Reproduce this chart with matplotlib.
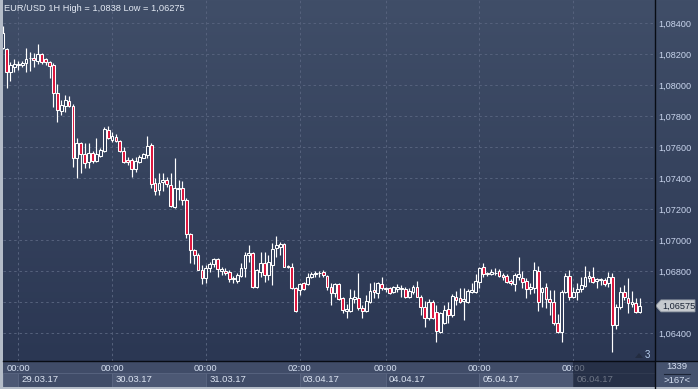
import numpy as np
import matplotlib
matplotlib.use("Agg")
import matplotlib.pyplot as plt
from matplotlib.patches import Rectangle, Polygon
from matplotlib.ticker import FixedLocator, FuncFormatter
from matplotlib.transforms import blended_transform_factory

plt.rcParams['font.family'] = ['Liberation Sans', 'DejaVu Sans']

# ---------------- data (EUR/USD hourly) ----------------
opens = [1.08239, 1.08232, 1.08084, 1.08116, 1.08126, 1.08132, 1.08144, 1.08171, 1.08176, 1.08155,
         1.08198, 1.08166, 1.08147, 1.08129, 1.07947, 1.07834, 1.07865, 1.07897, 1.07865, 1.07531,
         1.07628, 1.07553, 1.07501, 1.07563, 1.07510, 1.07544, 1.07574, 1.07708, 1.07645, 1.07667,
         1.07641, 1.07576, 1.07516, 1.07516, 1.07456, 1.07505, 1.07531, 1.07549, 1.07613, 1.07366,
         1.07323, 1.07373, 1.07387, 1.07355, 1.07211, 1.07329, 1.07334, 1.07258, 1.07037, 1.06936,
         1.06904, 1.06807, 1.06753, 1.06818, 1.06844, 1.06876, 1.06800, 1.06800, 1.06792, 1.06749,
         1.06738, 1.06770, 1.06818, 1.06904, 1.06918, 1.06695, 1.06794, 1.06850, 1.06775, 1.06839,
         1.06947, 1.06957, 1.06975, 1.06833, 1.06824, 1.06689, 1.06678, 1.06721, 1.06716, 1.06764,
         1.06781, 1.06784, 1.06796, 1.06768, 1.06695, 1.06657, 1.06716, 1.06624, 1.06542, 1.06542,
         1.06620, 1.06624, 1.06560, 1.06542, 1.06602, 1.06678, 1.06657, 1.06715, 1.06684, 1.06689,
         1.06667, 1.06684, 1.06684, 1.06682, 1.06635, 1.06667, 1.06699, 1.06635, 1.06570, 1.06495,
         1.06602, 1.06536, 1.06409, 1.06467, 1.06553, 1.06517, 1.06635, 1.06624, 1.06609, 1.06602,
         1.06667, 1.06667, 1.06731, 1.06824, 1.06779, 1.06781, 1.06786, 1.06802, 1.06775, 1.06768,
         1.06736, 1.06715, 1.06764, 1.06753, 1.06736, 1.06682, 1.06689, 1.06800, 1.06663, 1.06695,
         1.06620, 1.06602, 1.06463, 1.06409, 1.06667, 1.06770, 1.06635, 1.06663, 1.06684, 1.06706,
         1.06757, 1.06764, 1.06736, 1.06742, 1.06742, 1.06721, 1.06760, 1.06452, 1.06570, 1.06667,
         1.06628, 1.06588, 1.06592, 1.06534]
highs = [1.08380, 1.08241, 1.08148, 1.08168, 1.08152, 1.08155, 1.08241, 1.08215, 1.08205, 1.08265,
         1.08205, 1.08172, 1.08155, 1.08140, 1.08005, 1.07903, 1.07936, 1.07929, 1.07876, 1.07656,
         1.07634, 1.07624, 1.07624, 1.07574, 1.07660, 1.07592, 1.07731, 1.07736, 1.07695, 1.07682,
         1.07645, 1.07602, 1.07538, 1.07531, 1.07538, 1.07549, 1.07563, 1.07671, 1.07628, 1.07398,
         1.07431, 1.07434, 1.07409, 1.07434, 1.07527, 1.07387, 1.07381, 1.07273, 1.07047, 1.06940,
         1.06915, 1.06839, 1.06839, 1.06860, 1.06882, 1.06882, 1.06828, 1.06818, 1.06807, 1.06768,
         1.06789, 1.06854, 1.06925, 1.06968, 1.06925, 1.06811, 1.06925, 1.06925, 1.06904, 1.06979,
         1.07026, 1.06989, 1.06983, 1.06839, 1.06850, 1.06695, 1.06721, 1.06731, 1.06786, 1.06796,
         1.06802, 1.06802, 1.06807, 1.06775, 1.06721, 1.06725, 1.06725, 1.06635, 1.06588, 1.06682,
         1.06678, 1.06786, 1.06581, 1.06646, 1.06725, 1.06731, 1.06731, 1.06764, 1.06699, 1.06699,
         1.06704, 1.06716, 1.06710, 1.06699, 1.06689, 1.06710, 1.06736, 1.06646, 1.06609, 1.06618,
         1.06613, 1.06581, 1.06538, 1.06581, 1.06602, 1.06652, 1.06673, 1.06689, 1.06689, 1.06682,
         1.06721, 1.06781, 1.06828, 1.06850, 1.06796, 1.06811, 1.06818, 1.06811, 1.06786, 1.06781,
         1.06747, 1.06786, 1.06893, 1.06800, 1.06753, 1.06721, 1.06860, 1.06835, 1.06699, 1.06721,
         1.06678, 1.06678, 1.06521, 1.06678, 1.06786, 1.06807, 1.06699, 1.06721, 1.06764, 1.06835,
         1.06800, 1.06828, 1.06757, 1.06753, 1.06753, 1.06796, 1.06786, 1.06586, 1.06699, 1.06710,
         1.06753, 1.06671, 1.06624, 1.06624]
lows = [1.08230, 1.07981, 1.08026, 1.08086, 1.08097, 1.08116, 1.08086, 1.08092, 1.08114, 1.08134,
        1.08136, 1.08129, 1.08043, 1.07860, 1.07763, 1.07807, 1.07828, 1.07860, 1.07473, 1.07402,
        1.07431, 1.07463, 1.07467, 1.07495, 1.07501, 1.07538, 1.07570, 1.07650, 1.07634, 1.07631,
        1.07570, 1.07495, 1.07484, 1.07409, 1.07441, 1.07499, 1.07527, 1.07527, 1.07334, 1.07291,
        1.07291, 1.07318, 1.07344, 1.07211, 1.07205, 1.07258, 1.07226, 1.07011, 1.06850, 1.06846,
        1.06804, 1.06715, 1.06721, 1.06796, 1.06828, 1.06764, 1.06775, 1.06775, 1.06731, 1.06721,
        1.06721, 1.06764, 1.06764, 1.06860, 1.06689, 1.06689, 1.06762, 1.06731, 1.06742, 1.06710,
        1.06893, 1.06904, 1.06824, 1.06818, 1.06682, 1.06533, 1.06646, 1.06678, 1.06710, 1.06753,
        1.06764, 1.06764, 1.06760, 1.06678, 1.06581, 1.06635, 1.06613, 1.06531, 1.06495, 1.06538,
        1.06592, 1.06549, 1.06495, 1.06538, 1.06592, 1.06624, 1.06624, 1.06678, 1.06667, 1.06652,
        1.06657, 1.06667, 1.06635, 1.06624, 1.06624, 1.06652, 1.06631, 1.06517, 1.06437, 1.06484,
        1.06491, 1.06344, 1.06402, 1.06459, 1.06463, 1.06506, 1.06581, 1.06594, 1.06484, 1.06592,
        1.06660, 1.06657, 1.06689, 1.06764, 1.06768, 1.06775, 1.06775, 1.06764, 1.06742, 1.06721,
        1.06710, 1.06673, 1.06742, 1.06689, 1.06624, 1.06650, 1.06657, 1.06542, 1.06570, 1.06560,
        1.06517, 1.06452, 1.06402, 1.06344, 1.06657, 1.06613, 1.06624, 1.06613, 1.06667, 1.06699,
        1.06731, 1.06721, 1.06693, 1.06710, 1.06706, 1.06699, 1.06275, 1.06426, 1.06555, 1.06613,
        1.06528, 1.06570, 1.06528, 1.06528]
closes = [1.08335, 1.08082, 1.08129, 1.08136, 1.08136, 1.08144, 1.08170, 1.08172, 1.08159, 1.08198,
          1.08150, 1.08150, 1.08125, 1.07947, 1.07839, 1.07871, 1.07901, 1.07865, 1.07531, 1.07628,
          1.07553, 1.07499, 1.07560, 1.07510, 1.07553, 1.07581, 1.07714, 1.07656, 1.07671, 1.07641,
          1.07576, 1.07505, 1.07501, 1.07458, 1.07510, 1.07538, 1.07553, 1.07607, 1.07362, 1.07318,
          1.07366, 1.07387, 1.07362, 1.07220, 1.07334, 1.07334, 1.07258, 1.07037, 1.06936, 1.06904,
          1.06807, 1.06753, 1.06818, 1.06846, 1.06876, 1.06811, 1.06811, 1.06786, 1.06747, 1.06753,
          1.06775, 1.06822, 1.06904, 1.06918, 1.06695, 1.06807, 1.06854, 1.06775, 1.06856, 1.06940,
          1.06968, 1.06975, 1.06828, 1.06824, 1.06689, 1.06542, 1.06716, 1.06682, 1.06764, 1.06781,
          1.06786, 1.06789, 1.06775, 1.06695, 1.06657, 1.06716, 1.06618, 1.06549, 1.06553, 1.06624,
          1.06635, 1.06560, 1.06542, 1.06607, 1.06671, 1.06663, 1.06721, 1.06689, 1.06688, 1.06660,
          1.06695, 1.06699, 1.06689, 1.06631, 1.06673, 1.06699, 1.06635, 1.06570, 1.06495, 1.06602,
          1.06495, 1.06413, 1.06528, 1.06549, 1.06517, 1.06639, 1.06613, 1.06602, 1.06618, 1.06673,
          1.06678, 1.06738, 1.06818, 1.06781, 1.06789, 1.06796, 1.06789, 1.06768, 1.06764, 1.06731,
          1.06721, 1.06775, 1.06779, 1.06731, 1.06684, 1.06699, 1.06807, 1.06602, 1.06693, 1.06618,
          1.06599, 1.06463, 1.06405, 1.06663, 1.06770, 1.06635, 1.06663, 1.06684, 1.06710, 1.06764,
          1.06768, 1.06731, 1.06749, 1.06747, 1.06715, 1.06760, 1.06452, 1.06570, 1.06663, 1.06631,
          1.06592, 1.06599, 1.06534, 1.06575]

day_ticks = [4, 28, 52, 76, 98, 122, 146]
time_labels = ["00:00", "00:00", "00:00", "02:00", "00:00", "00:00", "00:00"]
date_labels = ["29.03.17", "30.03.17", "31.03.17", "03.04.17", "04.04.17", "05.04.17", "06.04.17"]
price_ticks = [1.064, 1.066, 1.068, 1.070, 1.072, 1.074, 1.076, 1.078, 1.080, 1.082, 1.084]
title = "EUR/USD 1H High = 1,0838 Low = 1,06275"
last_price = 1.06575
corner_top, corner_bottom = "1339", ">167<"
scroll_count = "3"

# ---------------- figure ----------------
W, H = 698, 389
fig = plt.figure(figsize=(W / 100, H / 100), dpi=100)

# background (pixel coordinates)
bg = fig.add_axes([0, 0, 1, 1], zorder=-5)
bg.set_xlim(0, W); bg.set_ylim(H, 0); bg.axis('off')
top_c = np.array([64, 78, 104]) / 255
bot_c = np.array([43, 55, 83]) / 255
t = np.linspace(0, 1, 256)[:, None, None]
grad = top_c * (1 - t) + bot_c * t
bg.imshow(grad, extent=[0, W, 361, 0], aspect='auto', interpolation='bilinear')
bg.add_patch(Rectangle((0, 361), W, 28, color='#404c68', lw=0))
bg.add_patch(Rectangle((655, 361), 43, 26, color='#45526e', lw=0))

# main price axes
XL = (0.10, 166.9)
y_top = 1.0840 + 23 / 15500
y_bot = 1.0840 - 338 / 15500
ax = fig.add_axes([3 / W, 28 / H, 652 / W, 361 / H], zorder=0)
ax.set_facecolor('none')
ax.set_xlim(*XL)
ax.set_ylim(y_bot, y_top)
for s in ax.spines.values():
    s.set_visible(False)
ax.set_xticks([])
ax.yaxis.tick_right()
ax.yaxis.set_major_locator(FixedLocator(price_ticks))


def price_fmt(v, p):
    # the label nearest the current-price marker is covered by it
    if abs(v - last_price) < 0.0006:
        return ""
    return f"{v:.5f}".replace('.', ',')


ax.yaxis.set_major_formatter(FuncFormatter(price_fmt))
ax.tick_params(axis='y', length=0, pad=2.3, labelsize=6.6, labelcolor='#c8d4ec')

grid_c = '#56627d'
for p in price_ticks:
    ax.axhline(p, color=grid_c, lw=0.7, ls=(0, (2.5, 3)), zorder=1)
for d in day_ticks:
    ax.axvline(d, color=grid_c, lw=0.7, ls=(0, (2.5, 3)), zorder=1)

o = np.array(opens); h = np.array(highs); l = np.array(lows); c = np.array(closes)
idx = np.arange(len(o))
up = c >= o
ax.vlines(idx, l, h, color='white', lw=0.85, zorder=3)
body_b = np.minimum(o, c)
body_h = np.maximum(np.abs(c - o), 0.000012)
cols = np.where(up, '#34405c', '#dc143c')
ax.bar(idx, body_h, bottom=body_b, width=0.72, color=cols, edgecolor='white',
       linewidth=0.75, zorder=4)

# time axis
tax = fig.add_axes([3 / W, 2 / H, 652 / W, 26 / H], zorder=1)
tax.set_facecolor('none')
tax.set_xlim(*XL); tax.set_ylim(387, 361); tax.axis('off')
bounds = [XL[0]] + day_ticks + [XL[1]]
for k in range(len(bounds) - 1):
    col = '#4c5874' if k % 2 == 0 else '#404c68'
    tax.add_patch(Rectangle((bounds[k], 373), bounds[k + 1] - bounds[k], 13.5,
                            facecolor=col, edgecolor='#5a6682', lw=0.6))
for d, tl, dl in zip(day_ticks, time_labels, date_labels):
    tax.text(d, 368.2, tl, ha='center', va='center', fontsize=6.8, color='#d4def0')
    tax.text(d + 0.85, 380, dl, ha='left', va='center', fontsize=6.8, color='#dce4f2')
tax.add_patch(Rectangle((day_ticks[-1], 361), XL[1] - day_ticks[-1], 26,
                        facecolor='#121a2c', alpha=0.55, lw=0, zorder=5))

# foreground (pixel coordinates)
fg = fig.add_axes([0, 0, 1, 1], zorder=10)
fg.set_facecolor('none')
fg.set_xlim(0, W); fg.set_ylim(H, 0); fg.axis('off')
fg.plot([655, 655], [0, H], color='#080c14', lw=1.0)
fg.plot([3, W], [361, 361], color='#080c14', lw=1.0)
fg.add_patch(Rectangle((0, 0), 2.5, H, color='#b4bcc8', lw=0))
fg.add_patch(Rectangle((0, 387), W, 2, color='#b4bcc8', lw=0))
fg.text(4, 8.5, title, ha='left', va='center', fontsize=6.7, color='#e4eaf4')

# current price marker
tr = blended_transform_factory(fg.transData, ax.transData)
hh = 6 / 15500
mk = Polygon([(655.5, last_price), (661, last_price + hh), (695, last_price + hh),
              (695, last_price - hh), (661, last_price - hh)], closed=True,
             facecolor='#c6cacf', edgecolor='#8e96a2', lw=0.6, transform=tr, clip_on=False)
fg.add_patch(mk)
fg.text(662, last_price, f"{last_price:.5f}".replace('.', ','), transform=tr,
        ha='left', va='center', fontsize=6.6, color='#1a2336', clip_on=False)

# corner info
fg.text(677, 366.5, corner_top, ha='center', va='center', fontsize=6.8, color='#d4def0')
fg.plot([664, 690], [373.5, 373.5], color='#1c2436', lw=0.8)
fg.text(677, 380.5, corner_bottom, ha='center', va='center', fontsize=6.8, color='#d4def0')
fg.add_patch(Polygon([(635, 358), (639, 353), (643, 358)], closed=True,
                     facecolor='#232c40', lw=0))
fg.text(647.5, 355.5, scroll_count, ha='center', va='center', fontsize=7, color='#b8d0f0')

fig.savefig('out.png', dpi=100)
